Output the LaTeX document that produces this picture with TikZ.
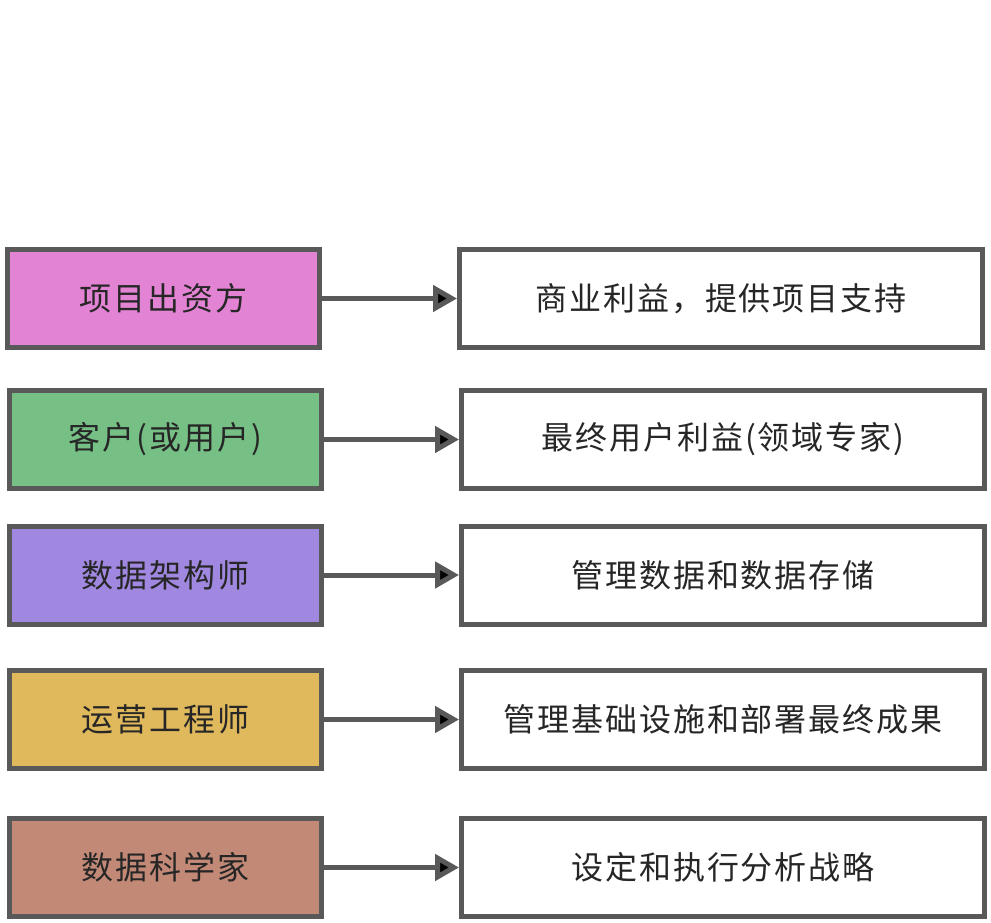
\documentclass[tikz,border=0pt]{standalone}
\usepackage{fontspec}
\newfontfamily\cjk[LetterSpace=6]{Noto Sans CJK SC}
\usepackage{tikz}
\usetikzlibrary{positioning,arrows.meta}
\definecolor{edgegray}{RGB}{89,89,89}
\definecolor{rolepink}{RGB}{227,131,211}
\definecolor{rolegreen}{RGB}{118,192,134}
\definecolor{rolepurple}{RGB}{160,136,224}
\definecolor{roleyellow}{RGB}{224,185,92}
\definecolor{rolebrown}{RGB}{194,137,118}
\tikzset{role node/.style={rectangle,draw=edgegray,line width=5pt,minimum width=312pt,minimum height=98pt,inner sep=0pt,font=\cjk\fontsize{32}{38}\selectfont,text=black!85},
         task node/.style={role node,fill=white,minimum width=523pt},
         flow line/.style={draw=edgegray,line width=5pt,-{Triangle[length=24pt,width=26pt]}},}
\newcommand{\flow}[2]{\path[flow line] (#1) edge node {} (#2);}

\begin{document}
\begin{tikzpicture}[x=1pt,y=-1pt]
        \useasboundingbox (0,0) rectangle (991,923);
        \node[role node,fill=rolepink] (r1) at (163.5,298.5) {项目出资方};
        \node[role node,fill=rolegreen] (r2) at (165.5,439.5) {客户(或用户)};
        \node[role node,fill=rolepurple] (r3) at (165.5,575) {数据架构师};
        \node[role node,fill=roleyellow] (r4) at (165.5,719.5) {运营工程师};
        \node[role node,fill=rolebrown] (r5) at (165.5,867.5) {数据科学家};

        \node[task node] (t1) [right = 135pt of r1] {商业利益，提供项目支持};
        \node[task node] (t2) [right = 135pt of r2] {最终用户利益(领域专家)};
        \node[task node] (t3) [right = 135pt of r3] {管理数据和数据存储};
        \node[task node] (t4) [right = 135pt of r4] {管理基础设施和部署最终成果};
        \node[task node] (t5) [right = 135pt of r5] {设定和执行分析战略};

        \flow{r1}{t1}
        \flow{r2}{t2}
        \flow{r3}{t3}
        \flow{r4}{t4}
        \flow{r5}{t5}
    \end{tikzpicture}
\end{document}
